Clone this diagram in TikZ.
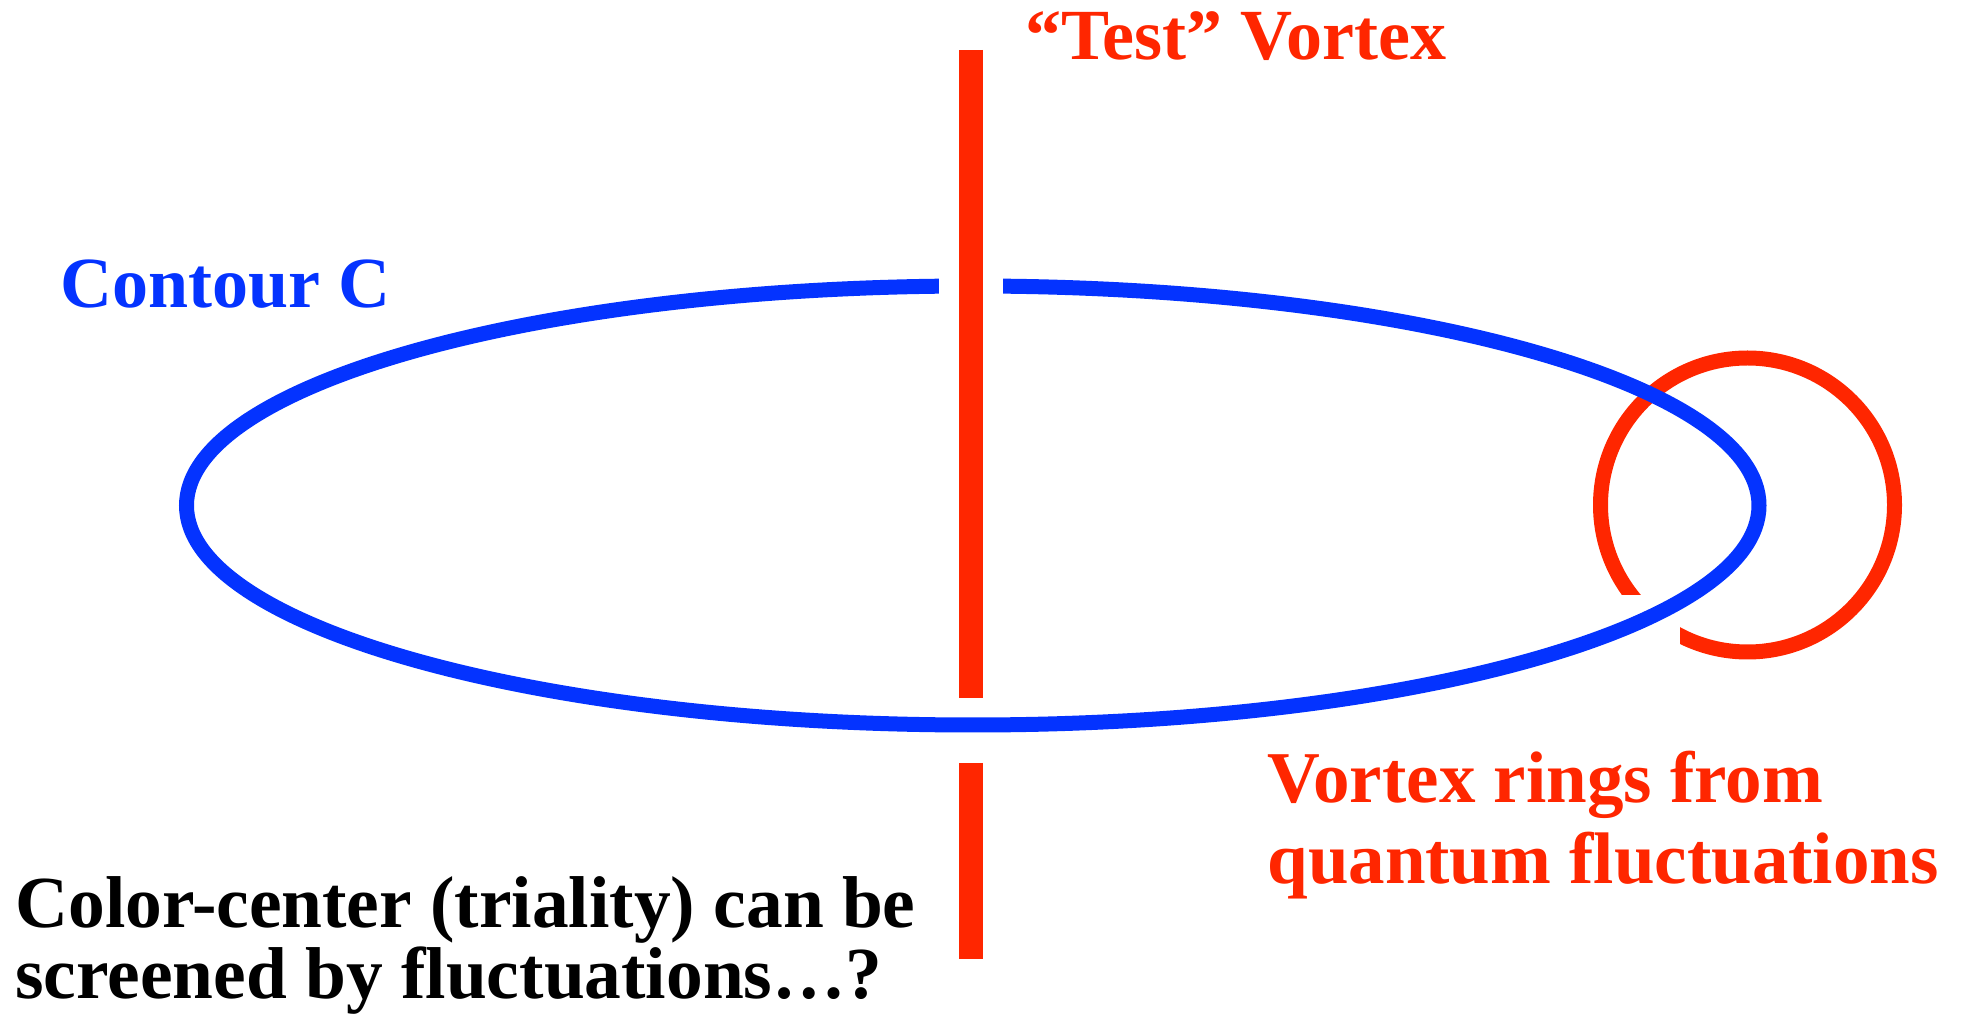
\documentclass[tikz,border=0pt]{standalone}
\usepackage{fontspec}
\setmainfont{Liberation Serif}
\definecolor{vred}{RGB}{255,38,0}
\definecolor{vblue}{RGB}{4,51,255}
\tikzset{
  lbl/.style={inner sep=0pt, anchor=base west, font=\bfseries\fontsize{36}{40}\selectfont},
  contour/.style={draw=vblue, line width=7.5pt},
  ring/.style={draw=vred, line width=7.5pt},
  testvortex/.style={draw=vred, line width=12pt, line cap=butt},
  cover/.style={fill=white, draw=none}
}
\begin{document}
\begin{tikzpicture}[x=0.5pt, y=-0.5pt]
\useasboundingbox (0,0) rectangle (1966,1015);
% vortex ring (behind contour at lower-left)
\draw[ring] (1747.5,505) circle [radius=147];
\fill[cover] (1616,595) rectangle (1680,672);
% contour C
\draw[contour] (972.75,505.5) ellipse [x radius=786.25, y radius=219.5];
\fill[cover] (939,268) rectangle (1003,306);
% test vortex line
\coordinate (tvtop) at (971,50);
\coordinate (tvmid1) at (971,698);
\coordinate (tvmid2) at (971,763);
\coordinate (tvbot) at (971,959);
\draw[testvortex] (tvtop) -- (tvmid1);
\draw[testvortex] (tvmid2) -- (tvbot);
% labels
\node[lbl, text=vred] (tv) at (1025,60) {“Test” Vortex};
\node[lbl, text=vblue] (cc) at (60,308) {Contour C};
\node[lbl, text=vred, font=\bfseries\fontsize{36.5}{40.5}\selectfont] (vr) at (1267,802)
  {\begin{tabular}[t]{@{}l@{}}Vortex rings from\\ quantum fluctuations\end{tabular}};
\node[lbl, text=black, font=\bfseries\fontsize{36.7}{33}\selectfont] (scr) at (15,927)
  {\begin{tabular}[t]{@{}l@{}}Color-center (triality) can be\\ screened by fluctuations…?\end{tabular}};
\end{tikzpicture}
\end{document}
